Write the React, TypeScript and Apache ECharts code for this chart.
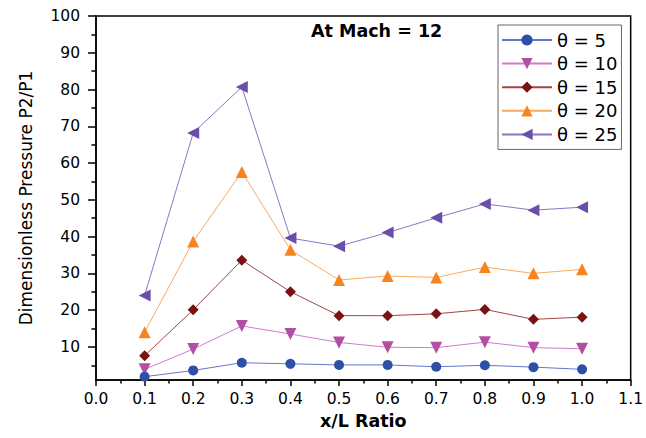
import React, { useEffect, useRef } from "react";
import * as echarts from "echarts";

const xValues = [0.1, 0.2, 0.3, 0.4, 0.5, 0.6, 0.7, 0.8, 0.9, 1.0];
const theta5 = [1.9, 3.6, 5.7, 5.4, 5.1, 5.1, 4.6, 5.0, 4.5, 3.9];
const theta10 = [3.9, 9.4, 15.7, 13.5, 11.2, 9.9, 9.8, 11.3, 9.8, 9.5];
const theta15 = [7.6, 20.1, 33.6, 25.0, 18.5, 18.5, 19.0, 20.2, 17.5, 18.1];
const theta20 = [14.0, 38.7, 57.6, 36.4, 28.2, 29.3, 28.9, 31.7, 30.0, 31.1];
const theta25 = [24.0, 68.2, 80.7, 39.6, 37.4, 41.1, 45.1, 48.9, 47.2, 48.0];
const seriesNames = ["θ = 5", "θ = 10", "θ = 15", "θ = 20", "θ = 25"];
const yTickLabels = [10, 20, 30, 40, 50, 60, 70, 80, 90, 100];
const yMinorTicks = [5, 15, 25, 35, 45, 55, 65, 75, 85, 95];

const FONT = "DejaVu Sans";

export default function App() {
  const ref = useRef<HTMLDivElement>(null);
  useEffect(() => {
    if (!ref.current) return;
    const chart = echarts.init(ref.current, null, { renderer: "svg" });
    const allData = [theta5, theta10, theta15, theta20, theta25];
    const markerColors = ["#2E4FA8", "#B24FA2", "#7A1212", "#F7841E", "#6A4FAA"];
    const lineColors = ["#6677C8", "#D47ACB", "#A24646", "#F9AA62", "#8E74C4"];
    const symbols = ["circle", "triangle", "diamond", "triangle", "triangle"];
    const rotates = [0, 180, 0, 0, 90];
    const sizes = [10, 12, 11, 12, 12];
    const series = allData.map((d, i) => ({
      name: seriesNames[i],
      type: "line",
      data: d.map((v, j) => [xValues[j], v]),
      symbol: symbols[i],
      symbolRotate: rotates[i],
      symbolSize: sizes[i],
      showAllSymbol: true,
      z: 10 - i,
      lineStyle: { color: lineColors[i], width: 1 },
      itemStyle: { color: markerColors[i], borderWidth: 0 },
    }));
    chart.setOption({
      animation: false,
      backgroundColor: "#fff",
      textStyle: { fontFamily: FONT },
      title: {
        text: "At Mach = 12",
        left: 311,
        top: 22,
        padding: 0,
        textStyle: { fontFamily: FONT, fontWeight: "bold", fontSize: 17.5, color: "#000" },
      },
      legend: {
        orient: "vertical",
        left: 498,
        top: 25,
        padding: [6, 4, 6, 3],
        itemWidth: 50,
        itemHeight: 14,
        itemGap: 5.6,
        borderColor: "#666",
        borderWidth: 1,
        backgroundColor: "#fff",
        textStyle: { fontFamily: FONT, fontSize: 18, color: "#000", lineHeight: 14 },
        data: seriesNames,
      },
      grid: {
        left: 96,
        right: 10,
        top: 16,
        bottom: 58,
        show: true,
        borderColor: "#000",
        borderWidth: 1.5,
        backgroundColor: "transparent",
      },
      xAxis: {
        type: "value",
        min: 0,
        max: 1.1,
        interval: 0.1,
        name: "x/L Ratio",
        nameLocation: "middle",
        nameGap: 28,
        nameTextStyle: { fontFamily: FONT, fontWeight: "bold", fontSize: 17.5, color: "#000" },
        axisLine: { show: true, lineStyle: { color: "#000", width: 1.5 } },
        axisTick: { show: true, length: 6, lineStyle: { color: "#000", width: 1.5 } },
        minorTick: { show: true, splitNumber: 2, length: 3.5, lineStyle: { color: "#000", width: 1.5 } },
        axisLabel: {
          margin: 11,
          fontFamily: FONT,
          fontSize: 15.5,
          color: "#000",
          formatter: (v: number) => v.toFixed(1),
        },
        splitLine: { show: false },
      },
      yAxis: [
        {
          type: "value",
          min: 1,
          max: 100,
          name: "Dimensionless Pressure P2/P1",
          nameLocation: "middle",
          nameGap: 62,
          nameTextStyle: { fontFamily: FONT, fontSize: 17, color: "#000" },
          axisLine: { show: true, lineStyle: { color: "#000", width: 1.5 } },
          axisTick: {
            show: true,
            length: 8,
            customValues: yTickLabels,
            lineStyle: { color: "#000", width: 1.5 },
          },
          axisLabel: {
            margin: 16,
            fontFamily: FONT,
            fontSize: 15.5,
            color: "#000",
            customValues: yTickLabels,
          },
          splitLine: { show: false },
        },
        {
          type: "value",
          min: 1,
          max: 100,
          position: "left",
          axisLine: { show: false },
          axisTick: {
            show: true,
            length: 4.5,
            customValues: yMinorTicks,
            lineStyle: { color: "#000", width: 1.5 },
          },
          axisLabel: { show: false },
          splitLine: { show: false },
        },
      ],
      series,
    });
    return () => chart.dispose();
  }, []);
  return (
    <div
      ref={ref}
      style={{ position: "absolute", left: 0, top: 0, width: 646, height: 438 }}
    />
  );
}
